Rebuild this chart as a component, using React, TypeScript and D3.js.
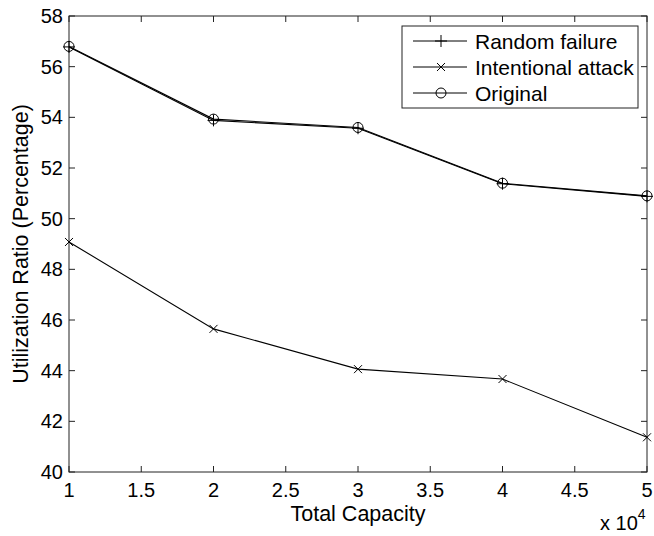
import React, {useEffect, useRef} from 'react';
import * as d3 from 'd3';

// chart size, same as the window
const W = 654;
const H = 536;
const margin = {top: 16, right: 7, bottom: 64, left: 69};

// x values are in units of 10^4
const capacity = [1, 2, 3, 4, 5];
const randomFailure = [56.78, 53.88, 53.57, 51.38, 50.88];
const intentionalAttack = [49.08, 45.65, 44.06, 43.67, 41.37];
const original = [56.8, 53.93, 53.6, 51.4, 50.9];

const xTicks = [1, 1.5, 2, 2.5, 3, 3.5, 4, 4.5, 5];
const yTicks = [40, 42, 44, 46, 48, 50, 52, 54, 56, 58];

const seriesNames = ['Random failure', 'Intentional attack', 'Original'];
const markerKinds = ['plus', 'cross', 'circle'];

const font = 'Liberation Sans, Arial, Helvetica, sans-serif';

function drawMarker(g, kind, x, y) {
    if (kind === 'plus') {
        g.append('path').attr('d', `M${x - 6},${y}H${x + 6}M${x},${y - 6}V${y + 6}`)
            .attr('stroke', '#000').attr('stroke-width', 1).attr('fill', 'none');
    } else if (kind === 'cross') {
        g.append('path').attr('d', `M${x - 4},${y - 4}L${x + 4},${y + 4}M${x - 4},${y + 4}L${x + 4},${y - 4}`)
            .attr('stroke', '#000').attr('stroke-width', 1).attr('fill', 'none');
    } else {
        g.append('circle').attr('cx', x).attr('cy', y).attr('r', 5)
            .attr('stroke', '#000').attr('stroke-width', 1).attr('fill', 'none');
    }
}

const App = () => {
    const anchor = useRef(null);

    useEffect(() => {
        const svg = d3.select(anchor.current);
        svg.selectAll('*').remove();

        const x = d3.scaleLinear().domain([1, 5]).range([margin.left, W - margin.right]);
        const y = d3.scaleLinear().domain([40, 58]).range([H - margin.bottom, margin.top]);

        svg.append('rect').attr('width', W).attr('height', H).attr('fill', '#fff');

        // box with inward ticks on all four sides
        const axes = svg.append('g').attr('stroke', '#222').attr('stroke-width', 1).attr('fill', 'none');
        axes.append('rect')
            .attr('x', x(1)).attr('y', y(58))
            .attr('width', x(5) - x(1)).attr('height', y(40) - y(58));
        xTicks.forEach((t) => {
            axes.append('line').attr('x1', x(t)).attr('x2', x(t)).attr('y1', y(40)).attr('y2', y(40) - 6);
            axes.append('line').attr('x1', x(t)).attr('x2', x(t)).attr('y1', y(58)).attr('y2', y(58) + 6);
        });
        yTicks.forEach((t) => {
            axes.append('line').attr('x1', x(1)).attr('x2', x(1) + 6).attr('y1', y(t)).attr('y2', y(t));
            axes.append('line').attr('x1', x(5)).attr('x2', x(5) - 6).attr('y1', y(t)).attr('y2', y(t));
        });

        const labels = svg.append('g').style('font-family', font).style('font-size', '20px').attr('fill', '#000');
        xTicks.forEach((t) => {
            labels.append('text').attr('x', x(t)).attr('y', y(40) + 25)
                .attr('text-anchor', 'middle').text(String(t));
        });
        yTicks.forEach((t) => {
            labels.append('text').attr('x', x(1) - 6).attr('y', y(t) + 7)
                .attr('text-anchor', 'end').text(String(t));
        });

        labels.append('text').attr('x', (x(1) + x(5)) / 2).attr('y', 521)
            .style('font-size', '21.5px')
            .attr('text-anchor', 'middle').text('Total Capacity');
        labels.append('text')
            .attr('transform', `translate(28,${(y(40) + y(58)) / 2}) rotate(-90)`)
            .style('font-size', '21.5px')
            .attr('text-anchor', 'middle').text('Utilization Ratio (Percentage)');
        const exp = labels.append('text').attr('x', 600).attr('y', 530);
        exp.append('tspan').text('x 10');
        exp.append('tspan').attr('dy', -11).style('font-size', '14px').text('4');

        // series lines and markers
        const line = d3.line().x((d) => x(d[0])).y((d) => y(d[1]));
        const all = [randomFailure, intentionalAttack, original];
        all.forEach((vals, i) => {
            const pts = capacity.map((c, j) => [c, vals[j]]);
            svg.append('path').attr('d', line(pts))
                .attr('stroke', '#000').attr('stroke-width', 1.1).attr('fill', 'none');
            const mg = svg.append('g');
            pts.forEach((p) => drawMarker(mg, markerKinds[i], x(p[0]), y(p[1])));
        });

        // legend
        const lg = svg.append('g');
        lg.append('rect').attr('x', 402).attr('y', 26).attr('width', 236).attr('height', 82)
            .attr('fill', '#fff').attr('stroke', '#222').attr('stroke-width', 1);
        const legendY = [41, 67, 93];
        seriesNames.forEach((name, i) => {
            const ly = legendY[i];
            lg.append('line').attr('x1', 413).attr('x2', 467).attr('y1', ly).attr('y2', ly)
                .attr('stroke', '#000').attr('stroke-width', 1);
            drawMarker(lg, markerKinds[i], 441, ly);
            lg.append('text').attr('x', 475).attr('y', ly + 7.5)
                .style('font-family', font).style('font-size', '21px').text(name);
        });
    }, []);

    return <svg ref={anchor} width={W} height={H}
                style={{position: 'absolute', left: 0, top: 0}}/>;
};

export default App;
